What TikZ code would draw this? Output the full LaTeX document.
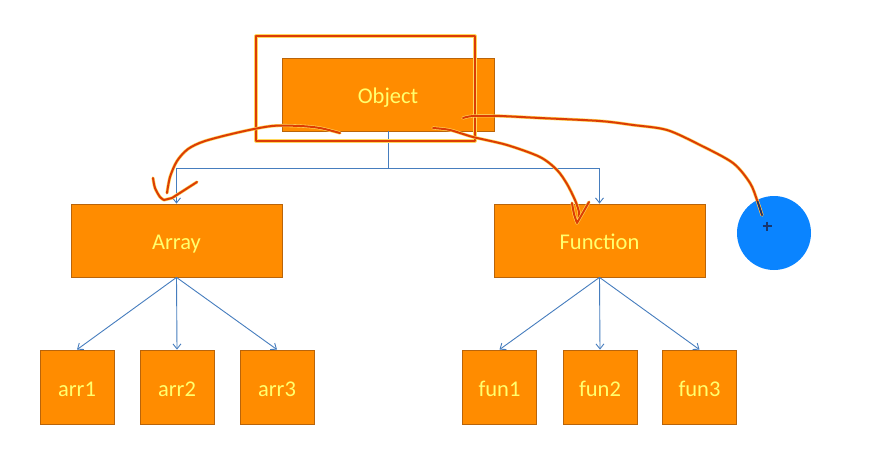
\documentclass[tikz,border=0pt]{standalone}
\usepackage{fontspec}
\setmainfont{Carlito}
\usetikzlibrary{arrows.meta}
\definecolor{boxfill}{RGB}{255,140,0}
\definecolor{boxline}{RGB}{185,100,10}
\definecolor{boxtext}{RGB}{255,255,110}
\definecolor{conncol}{RGB}{70,125,190}
\definecolor{inkcol}{RGB}{220,60,5}
\definecolor{halocol}{RGB}{255,215,90}
\definecolor{dotblue}{RGB}{10,132,255}
\definecolor{darkink}{RGB}{25,55,110}
\newcommand\inkpath[1]{\draw[halo] #1; \draw[ink] #1;}
\begin{document}
\begin{tikzpicture}[x=1pt,y=-1pt,
  box/.style={draw=boxline, line width=0.8pt, fill=boxfill, text=boxtext,
    inner sep=0pt, text height=18.5pt, text depth=0pt, font=\fontsize{22.5}{26}\selectfont},
  bigbox/.style={box, minimum width=211pt, minimum height=73pt},
  smallbox/.style={box, minimum width=74pt, minimum height=74pt},
  conn/.style={draw=conncol, line width=0.9pt, -{Straight Barb[length=5pt,width=8pt]}},
  halo/.style={draw=halocol, line width=3.2pt, line cap=round, line join=round},
  ink/.style={draw=inkcol, line width=2pt, line cap=round, line join=round}]
\useasboundingbox[fill=white] (0,0) rectangle (884,467);

\node[bigbox, minimum width=212pt] (obj) at (388,94.5) {Object};
\node[bigbox] (array) at (176.5,240.5) {Array};
\node[bigbox] (func) at (599.5,240.5) {Function};
\node[smallbox] (arr1) at (77,387) {arr1};
\node[smallbox] (arr2) at (177,387) {arr2};
\node[smallbox] (arr3) at (277,387) {arr3};
\node[smallbox] (fun1) at (499.5,387) {fun1};
\node[smallbox] (fun2) at (600,387) {fun2};
\node[smallbox] (fun3) at (699.5,387) {fun3};

\coordinate (bus) at (388,168);
\draw[draw=conncol, line width=0.9pt] (obj.south) -- (bus);
\draw[conn] (bus) -| (array.north);
\draw[conn] (bus) -| (func.north);
\foreach \t in {arr1,arr2,arr3} \draw[conn] (array.south) -- (\t.north);
\foreach \t in {fun1,fun2,fun3} \draw[conn] (func.south) -- (\t.north);

% hand-drawn marks
\inkpath{(256,36) rectangle (475,141)}
\inkpath{plot[smooth] coordinates {(340,133) (320,128) (300,126) (272,126) (240,132) (205,141) (188,149) (177,161) (170,177) (167,193)}}
\inkpath{plot[smooth] coordinates {(153,178) (155,188) (160,197) (164,200)} -- (172,198) -- (197,182)}
\inkpath{plot[smooth] coordinates {(433,128) (450,130) (473,137) (507,145) (540,157) (557,170) (567,184) (575,200) (579,212) (579,219)}}
\inkpath{plot[smooth] coordinates {(572,203) (574,214) (577,223)} -- (589,202)}

\node[circle, fill=dotblue, minimum size=74pt, inner sep=0pt] (dot) at (774,233) {};
\inkpath{plot[smooth] coordinates {(463,118) (473,116) (500,116) (540,118) (600,121) (633,125) (667,130) (700,145) (733,163) (750,183) (757,200) (762,215)}}
\begin{scope}
\clip (dot.center) circle (36pt);
\draw[draw=darkink, line width=1.6pt, line cap=round] plot[smooth] coordinates {(733,163) (750,183) (757,200) (762,215)};
\end{scope}
\draw[draw=darkink, line width=1.6pt] (762.5,226) -- (771.5,226) (767,221.5) -- (767,230.5);
\end{tikzpicture}
\end{document}
